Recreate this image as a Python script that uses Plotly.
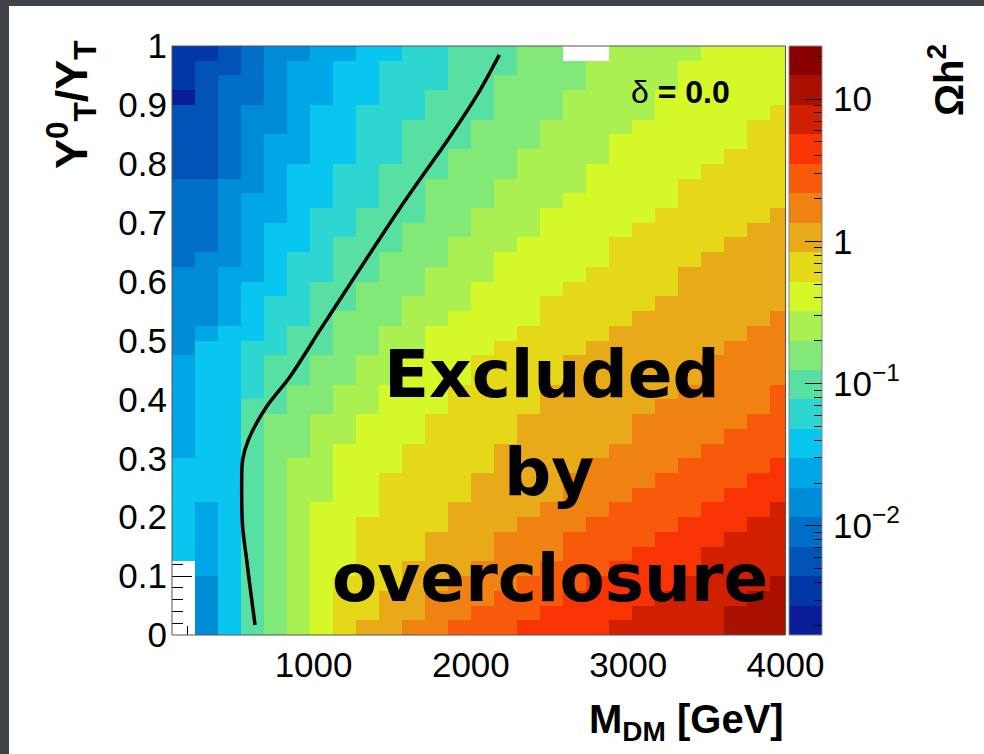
import math
import plotly.graph_objects as go

W, H = 984, 754

# ---------------- values ----------------
# centres of the M_DM bins [GeV]
M_BIN_CENTERS = [173, 319, 466, 612, 758, 905, 1051, 1197, 1343, 1490, 1636, 1782, 1929,
                 2075, 2221, 2368, 2514, 2660, 2807, 2953, 3099, 3246, 3392, 3538, 3685,
                 3831, 3977]
# centres of the Y_T^0/Y_T bins, top row first
Y_BIN_CENTERS = [0.9875, 0.9625, 0.9375, 0.9125, 0.8875, 0.8625, 0.8375, 0.8125, 0.7875,
                 0.7625, 0.7375, 0.7125, 0.6875, 0.6625, 0.6375, 0.6125, 0.5875, 0.5625,
                 0.5375, 0.5125, 0.4875, 0.4625, 0.4375, 0.4125, 0.3875, 0.3625, 0.3375,
                 0.3125, 0.2875, 0.2625, 0.2375, 0.2125, 0.1875, 0.1625, 0.1375, 0.1125,
                 0.0875, 0.0625, 0.0375, 0.0125]
# colour band (0..19 -> '0'..'9','a'..'j') of every cell, as read; '.' = empty cell
BAND_ROWS = [
    "11234 45566 77888 99..a aaabb bb",
    "12234 55667 77888 999aa aabbb bb",
    "12334 55667 77889 999aa aabbb bb",
    "02334 55667 78889 99aaa abbbb bb",
    "22344 56677 78889 99aaa abbbb bc",
    "22344 56677 88899 9aaaa bbbbb cc",
    "22345 56677 88899 9aaab bbbbb cc",
    "22345 56677 88999 aaaab bbbbc cc",
    "22345 66778 88999 aaabb bbbcc cc",
    "33445 66778 8999a aaabb bbccc cc",
    "33455 66778 8999a aabbb bbccc cc",
    "33455 67788 899aa abbbb bcccc cd",
    "33456 67788 999aa abbbb ccccc dd",
    "33456 67888 99aaa bbbbc ccccd dd",
    "34456 77889 99aab bbbbc cccdd dd",
    "44556 77889 9aaab bbbcc ccddd dd",
    "44566 78899 9aabb bbccc ccddd dd",
    "44567 78899 aaabb bcccc cdddd dd",
    "44567 78999 aabbb bcccc ddddd de",
    "45667 8899a abbbb ccccd ddddd ee",
    "46677 8899a abbbc cccdd dddde ee",
    "56678 899aa bbbcc ccddd dddee ee",
    "56678 899aa bbbcc ccddd dddee ee",
    "56678 99aab bbccc cdddd ddeee ef",
    "56688 99aab bbccc cdddd deeee ef",
    "56689 9aabb bcccc ddddd eeeee ff",
    "56689 9aabb bcccc ddddd eeeef ff",
    "56689 9abbb ccccd dddde eeeff ff",
    "66689 aabbb ccccd dddee eefff fg",
    "66689 aabbc cccdd ddeee effff gg",
    "66689 aabbc cccdd ddeee ffffg gg",
    "65689 abbbc ccddd deeef fffgg gh",
    "65689 abbcc ccddd eeeff ffggg hh",
    "65689 abbcc cddde eefff fgggh hh",
    "65689 abbcc cddde eefff ggghh hh",
    ".5689 abbcc dddee efffg ggghh hh",
    ".4689 abccc ddeee fffgg gghhh hi",
    ".4689 abccd deeef ffggg ghhhh ii",
    ".4689 abccd deeff fgggg hhhhi ii",
    ".4689 abcdd eefff ggggh hhhhi ii",
]
OMEGA_MIN, OMEGA_MAX, N_BANDS = 0.00171, 23.6, 20
PALETTE = ["#0a1c96", "#0036a6", "#0052b6", "#006ec6", "#008bd6", "#00a6e6",
           "#08c6f0", "#2ed6d2", "#58e0a2", "#82e878", "#aaf050", "#d4f828",
           "#e4d818", "#e8aa18", "#f08212", "#f85a0c", "#f83404", "#d02000",
           "#a81000", "#880000"]

# black curve (Omega h^2 = 0.12)
CURVE_M = [628, 596, 575, 549, 543, 549, 585, 702, 850, 1041, 1083, 1570, 1867, 2047, 2181]
CURVE_Y = [0.017, 0.082, 0.127, 0.184, 0.252, 0.297, 0.331, 0.388, 0.4385, 0.518, 0.535,
           0.733, 0.846, 0.920, 0.985]

X_TICKS = [1000, 2000, 3000, 4000]
Y_TICKS = [0, 0.1, 0.2, 0.3, 0.4, 0.5, 0.6, 0.7, 0.8, 0.9, 1]
Y_TICK_TEXT = ["0", "0.1", "0.2", "0.3", "0.4", "0.5", "0.6", "0.7", "0.8", "0.9", "1"]
Z_DECADES = [-2, -1, 0, 1]
Z_TICK_TEXT = ["10<sup>\u22122</sup>", "10<sup>\u22121</sup>", "1", "10"]

# ---------------- build ----------------
LOG_MIN, LOG_MAX = math.log10(OMEGA_MIN), math.log10(OMEGA_MAX)
STEP = (LOG_MAX - LOG_MIN) / N_BANDS
DIGITS = "0123456789abcdefghij"
z = []
for row in BAND_ROWS:
    s = row.replace(" ", "")
    z.append([None if ch == "." else LOG_MIN + (DIGITS.index(ch) + 0.5) * STEP for ch in s])

cs = []
for i, c in enumerate(PALETTE):
    cs.append([i / N_BANDS, c])
    cs.append([(i + 1) / N_BANDS, c])

band_centres = [LOG_MIN + (i + 0.5) * STEP for i in range(N_BANDS)]
minor_z = [math.log10(k * 10 ** d) for d in range(-3, 2) for k in range(2, 10)
           if LOG_MIN < math.log10(k * 10 ** d) < LOG_MAX]

FONT = "Liberation Sans, Arial, Helvetica, sans-serif"


def px(xp):
    return xp / W


def py(yp):
    return 1 - yp / H


X0, X1, YT, YB = 172, 785.5, 46, 635
CB0, CB1 = 789, 822

fig = go.Figure()
fig.add_trace(go.Heatmap(x=M_BIN_CENTERS, y=Y_BIN_CENTERS, z=z, colorscale=cs,
                         zmin=LOG_MIN, zmax=LOG_MAX, showscale=False, hoverinfo="skip",
                         xaxis="x", yaxis="y"))
fig.add_trace(go.Scatter(x=CURVE_M, y=CURVE_Y, mode="lines",
                         line=dict(color="black", width=3.5, shape="spline", smoothing=0.9),
                         hoverinfo="skip", xaxis="x", yaxis="y"))
fig.add_trace(go.Heatmap(x=[0], y=band_centres, z=[[v] for v in band_centres], colorscale=cs,
                         zmin=LOG_MIN, zmax=LOG_MAX, showscale=False, hoverinfo="skip",
                         xaxis="x2", yaxis="y2"))

tickfont = dict(family=FONT, size=35, color="black")
fig.update_layout(
    width=W, height=H, autosize=False,
    margin=dict(l=0, r=0, t=0, b=0, pad=0, autoexpand=False),
    paper_bgcolor="white", plot_bgcolor="white", showlegend=False,
    xaxis=dict(domain=[px(X0), px(X1)], range=[100, 4000], anchor="y",
               tickvals=X_TICKS, ticks="inside", ticklen=18, tickcolor="black",
               minor=dict(tickmode="array", tickvals=list(range(200, 4001, 200)),
                          ticks="inside", ticklen=9, tickcolor="black"),
               showgrid=False, zeroline=False, showline=False, layer="below traces",
               tickfont=tickfont, ticklabelstandoff=6, automargin=False),
    yaxis=dict(domain=[py(YB), py(YT)], range=[0, 1], anchor="x",
               tickvals=Y_TICKS, ticktext=Y_TICK_TEXT, ticks="inside", ticklen=20,
               tickcolor="black",
               minor=dict(tickmode="array", tickvals=[i / 50 for i in range(51)],
                          ticks="inside", ticklen=11, tickcolor="black"),
               showgrid=False, zeroline=False, showline=False, layer="below traces",
               tickfont=tickfont, ticklabelstandoff=4, automargin=False),
    xaxis2=dict(domain=[px(CB0), px(CB1)], range=[-0.5, 0.5], anchor="y2", visible=False),
    yaxis2=dict(domain=[py(YB), py(YT)], range=[LOG_MIN, LOG_MAX], anchor="x2", side="right",
                tickvals=Z_DECADES, ticktext=Z_TICK_TEXT, ticks="inside", ticklen=17,
                tickcolor="black",
                minor=dict(tickmode="array", tickvals=minor_z, ticks="inside", ticklen=8,
                           tickcolor="black"),
                showgrid=False, zeroline=False, showline=False, layer="above traces",
                tickfont=tickfont, ticklabelstandoff=10, automargin=False),
)

shapes = [
    dict(type="rect", xref="paper", yref="paper", x0=px(X0), x1=px(X1), y0=py(YB), y1=py(YT),
         line=dict(color="#555555", width=1), layer="above"),
    dict(type="rect", xref="paper", yref="paper", x0=px(CB0), x1=px(CB1), y0=py(YB), y1=py(YT),
         line=dict(color="#888888", width=1), layer="above"),
    dict(type="rect", xref="paper", yref="paper", x0=0, x1=1, y0=py(6), y1=1,
         fillcolor="#3f4247", line=dict(width=0), layer="above"),
    dict(type="rect", xref="paper", yref="paper", x0=0, x1=px(9), y0=0, y1=1,
         fillcolor="#3f4247", line=dict(width=0), layer="above"),
]
fig.update_layout(shapes=shapes)

ann = [
    dict(text="\u03b4 <b>= 0.0</b>", x=px(680), y=py(92), font=dict(family=FONT, size=32)),
    dict(text="<b>M<sub>DM</sub> [GeV]</b>", x=px(786), y=py(722), xanchor="right",
         font=dict(family=FONT, size=40)),
    dict(text="<b>Y<sup>0</sup><sub>T</sub>/Y<sub>T</sub></b>", x=px(71), y=py(105),
         textangle=-90, font=dict(family=FONT, size=45)),
    dict(text="<b>\u03a9h<sup>2</sup></b>", x=px(946), y=py(80), textangle=-90,
         font=dict(family=FONT, size=40)),
    dict(text="<b>Excluded</b>", x=px(552), y=py(374), font=dict(family="DejaVu Sans", size=66)),
    dict(text="<b>by</b>", x=px(549), y=py(472), font=dict(family="DejaVu Sans", size=66)),
    dict(text="<b>overclosure</b>", x=px(550), y=py(578), font=dict(family="DejaVu Sans", size=66)),
]
for a in ann:
    a.setdefault("xanchor", "center")
    a.setdefault("yanchor", "middle")
    a["xref"] = "paper"
    a["yref"] = "paper"
    a["showarrow"] = False
    a["font"].setdefault("color", "black")
fig.update_layout(annotations=ann)

fig.write_html("out.html")
